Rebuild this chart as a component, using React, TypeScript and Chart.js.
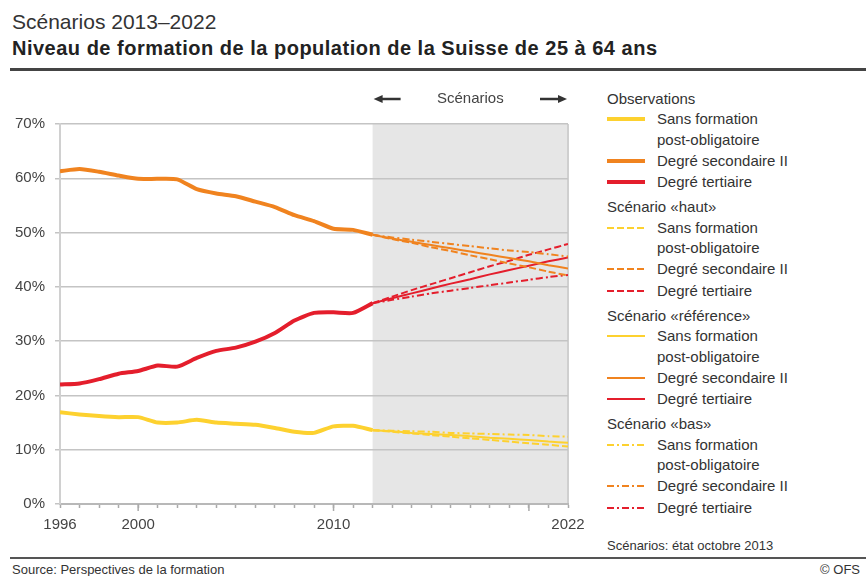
import React, { useEffect, useRef } from "react";
import { Chart, registerables } from "chart.js";
Chart.register(...registerables);

const obsYears = [1996, 1997, 1998, 1999, 2000, 2001, 2002, 2003, 2004, 2005, 2006, 2007, 2008, 2009, 2010, 2011, 2012];
const obsSans = [16.9, 16.5, 16.2, 16.0, 16.0, 15.0, 15.0, 15.5, 15.0, 14.8, 14.6, 14.0, 13.3, 13.1, 14.3, 14.4, 13.6];
const obsSec = [61.3, 61.7, 61.2, 60.5, 59.9, 59.9, 59.8, 58.0, 57.2, 56.7, 55.7, 54.7, 53.2, 52.1, 50.7, 50.5, 49.6];
const obsTer = [22.0, 22.2, 23.0, 24.0, 24.5, 25.5, 25.3, 26.9, 28.2, 28.8, 29.9, 31.5, 33.8, 35.2, 35.3, 35.2, 37.0];

const projYears = [2012, 2013, 2014, 2015, 2016, 2017, 2018, 2019, 2020, 2021, 2022];
const hautSans = [13.6, 13.3, 13.0, 12.7, 12.4, 12.1, 11.8, 11.5, 11.2, 10.9, 10.6];
const hautSec = [49.6, 48.8, 48.1, 47.3, 46.6, 45.8, 45.1, 44.3, 43.6, 42.8, 42.1];
const hautTer = [37.0, 38.2, 39.4, 40.5, 41.6, 42.7, 43.8, 44.8, 45.9, 46.9, 47.9];
const refSans = [13.6, 13.4, 13.1, 12.9, 12.7, 12.5, 12.2, 12.0, 11.8, 11.5, 11.3];
const refSec = [49.6, 48.9, 48.3, 47.7, 47.1, 46.5, 45.9, 45.3, 44.7, 44.0, 43.4];
const refTer = [37.0, 37.9, 38.8, 39.7, 40.6, 41.4, 42.3, 43.1, 43.9, 44.7, 45.4];
const basSans = [13.6, 13.5, 13.4, 13.3, 13.1, 13.0, 12.9, 12.8, 12.7, 12.5, 12.4];
const basSec = [49.6, 49.1, 48.7, 48.3, 47.9, 47.5, 47.1, 46.7, 46.4, 46.0, 45.6];
const basTer = [37.0, 37.6, 38.2, 38.8, 39.3, 39.8, 40.3, 40.8, 41.3, 41.8, 42.2];

const xLabelYears = [1996, 2000, 2010, 2022];
const majorTickYears = [2000, 2010, 2020];
const scenarioStart = 2012;
const scenarioEnd = 2022;

const categoryLabels = ["Sans formation\npost-obligatoire", "Degré secondaire II", "Degré tertiaire"];
const groupTitles = ["Observations", "Scénario «haut»", "Scénario «référence»", "Scénario «bas»"];

const YELLOW = "#fdd12f";
const ORANGE = "#f0831f";
const RED = "#e41e2c";
const colors = [YELLOW, ORANGE, RED];
const DASH_HAUT = [7, 3];
const DASH_BAS = [7, 3, 2, 3];
const groupDash: (number[] | null)[] = [null, DASH_HAUT, null, DASH_BAS];
const groupWidth = [4, 2, 2, 2];

const FONT = "'Liberation Sans', Arial, sans-serif";
const TEXT = "#333";

function pts(xs: number[], ys: number[]) {
  return xs.map((x, i) => ({ x, y: ys[i] }));
}

const bandPlugin = {
  id: "band",
  beforeDraw(chart: any) {
    const { ctx, chartArea, scales } = chart;
    const x0 = scales.x.getPixelForValue(scenarioStart);
    const x1 = scales.x.getPixelForValue(scenarioEnd);
    ctx.save();
    ctx.fillStyle = "#e6e6e6";
    ctx.fillRect(x0, chartArea.top, x1 - x0, chartArea.bottom - chartArea.top);
    ctx.strokeStyle = "#cfcfcf";
    ctx.lineWidth = 2;
    ctx.beginPath();
    ctx.moveTo(x1, chartArea.top);
    ctx.lineTo(x1, chartArea.bottom);
    ctx.stroke();
    ctx.restore();
  },
  afterDraw(chart: any) {
    const { ctx, chartArea, scales } = chart;
    const x0 = scales.x.getPixelForValue(scenarioStart);
    const x1 = scales.x.getPixelForValue(scenarioEnd);
    ctx.save();
    ctx.strokeStyle = "#aaa";
    ctx.lineWidth = 1.5;
    majorTickYears.forEach((yr) => {
      const px = scales.x.getPixelForValue(yr);
      ctx.beginPath();
      ctx.moveTo(px, chartArea.bottom);
      ctx.lineTo(px, chartArea.bottom + 7);
      ctx.stroke();
    });
    const y = 19;
    ctx.fillStyle = "#444";
    ctx.strokeStyle = "#333";
    ctx.font = `15px ${FONT}`;
    ctx.textAlign = "center";
    ctx.textBaseline = "middle";
    ctx.fillText("Scénarios", (x0 + x1) / 2, y);
    ctx.lineWidth = 2.5;
    ctx.beginPath();
    ctx.moveTo(x0 + 6, y);
    ctx.lineTo(x0 + 28, y);
    ctx.stroke();
    ctx.beginPath();
    ctx.moveTo(x0 + 1, y);
    ctx.lineTo(x0 + 10, y - 4);
    ctx.lineTo(x0 + 10, y + 4);
    ctx.closePath();
    ctx.fillStyle = "#333";
    ctx.fill();
    ctx.beginPath();
    ctx.moveTo(x1 - 28, y);
    ctx.lineTo(x1 - 6, y);
    ctx.stroke();
    ctx.beginPath();
    ctx.moveTo(x1 - 1, y);
    ctx.lineTo(x1 - 10, y - 4);
    ctx.lineTo(x1 - 10, y + 4);
    ctx.closePath();
    ctx.fill();
    ctx.restore();
  },
};

function LegendSymbol({ color, dash, width }: { color: string; dash: number[] | null; width: number }) {
  return (
    <svg width={38} height={10} style={{ position: "absolute", left: 0, top: 5 }}>
      <line x1={0} y1={5} x2={38} y2={5} stroke={color} strokeWidth={width} strokeDasharray={dash ? dash.join(" ") : undefined} />
    </svg>
  );
}

export default function App() {
  const ref = useRef<HTMLCanvasElement | null>(null);
  useEffect(() => {
    if (!ref.current) return;
    const mk = (data: number[], xs: number[], color: string, width: number, dash: number[] | null) => ({
      data: pts(xs, data),
      borderColor: color,
      backgroundColor: color,
      borderWidth: width,
      borderDash: dash || [],
      pointRadius: 0,
      tension: 0.2,
      fill: false,
    });
    const datasets = [
      mk(hautSans, projYears, YELLOW, 2, DASH_HAUT),
      mk(refSans, projYears, YELLOW, 2, null),
      mk(basSans, projYears, YELLOW, 2, DASH_BAS),
      mk(hautSec, projYears, ORANGE, 2, DASH_HAUT),
      mk(refSec, projYears, ORANGE, 2, null),
      mk(basSec, projYears, ORANGE, 2, DASH_BAS),
      mk(hautTer, projYears, RED, 2, DASH_HAUT),
      mk(refTer, projYears, RED, 2, null),
      mk(basTer, projYears, RED, 2, DASH_BAS),
      mk(obsSans, obsYears, YELLOW, 4, null),
      mk(obsSec, obsYears, ORANGE, 4, null),
      mk(obsTer, obsYears, RED, 4, null),
    ];
    const chart = new Chart(ref.current, {
      type: "line",
      data: { datasets },
      plugins: [bandPlugin],
      options: {
        animation: false,
        responsive: false,
        devicePixelRatio: 1,
        layout: { padding: { top: 44, right: 32, left: 0, bottom: 0 } },
        plugins: { legend: { display: false }, tooltip: { enabled: false } },
        scales: {
          x: {
            type: "linear",
            min: 1996,
            max: 2022,
            afterBuildTicks: (scale: any) => {
              const t = [];
              for (let y = 1996; y <= 2022; y++) t.push({ value: y });
              scale.ticks = t;
            },
            afterFit: (scale: any) => {
              scale.height = 36;
            },
            grid: { display: true, drawOnChartArea: false, drawTicks: true, tickLength: 4, tickColor: "#aaa", tickWidth: 1.5 },
            border: { display: true, color: "#b8b8b8", width: 2 },
            ticks: {
              autoSkip: false,
              maxRotation: 0,
              padding: 8,
              color: "#444",
              font: { family: FONT, size: 15 },
              callback: (v: any) => (xLabelYears.includes(v) ? String(v) : ""),
            },
          },
          y: {
            min: 0,
            max: 70,
            afterFit: (scale: any) => {
              scale.width = 60;
            },
            grid: { color: "#c4c4c4", lineWidth: 1.5, tickLength: 5, drawTicks: true },
            border: { display: true, color: "#d0d0d0", width: 2 },
            ticks: {
              stepSize: 10,
              padding: 10,
              color: "#444",
              font: { family: FONT, size: 15 },
              callback: (v: any) => v + "%",
            },
          },
        },
      } as any,
    });
    return () => chart.destroy();
  }, []);

  const LH = "20.3px";
  const legendRows: React.ReactNode[] = [];
  groupTitles.forEach((title, gi) => {
    legendRows.push(
      <div key={"t" + gi} style={{ marginTop: gi === 0 ? 0 : 5, lineHeight: LH }}>
        {title}
      </div>
    );
    categoryLabels.forEach((lab, ci) => {
      const lines = lab.split("\n");
      legendRows.push(
        <div key={gi + "-" + ci} style={{ position: "relative", paddingLeft: 50, lineHeight: LH, marginTop: ci === 0 ? 0 : 1 }}>
          <LegendSymbol color={colors[ci]} dash={groupDash[gi]} width={groupWidth[gi]} />
          {lines.map((l, i) => (
            <div key={i}>{l}</div>
          ))}
        </div>
      );
    });
  });

  return (
    <div style={{ position: "absolute", left: 0, top: 0, width: 866, height: 576, background: "#fff", overflow: "hidden", fontFamily: FONT, color: TEXT }}>
      <div style={{ position: "absolute", left: 12, top: 10, fontSize: 21, lineHeight: "24px", color: "#333" }}>Scénarios 2013–2022</div>
      <div style={{ position: "absolute", left: 12, top: 35, fontSize: 20, letterSpacing: "0.5px", fontWeight: "bold", lineHeight: "26px", color: "#222" }}>
        Niveau de formation de la population de la Suisse de 25 à 64 ans
      </div>
      <div style={{ position: "absolute", left: 10, top: 68, width: 856, height: 3, background: "#444" }} />
      <canvas ref={ref} width={600} height={460} style={{ position: "absolute", left: 0, top: 80, width: 600, height: 460 }} />
      <div style={{ position: "absolute", left: 607, top: 89, width: 259, fontSize: 15, color: "#333" }}>{legendRows}</div>
      <div style={{ position: "absolute", left: 607, top: 538, fontSize: 13, lineHeight: "16px", color: "#333" }}>Scénarios: état octobre 2013</div>
      <div style={{ position: "absolute", left: 10, top: 557, width: 856, height: 2, background: "#555" }} />
      <div style={{ position: "absolute", left: 12, top: 562, fontSize: 13, lineHeight: "16px", color: "#333" }}>Source: Perspectives de la formation</div>
      <div style={{ position: "absolute", right: 6, top: 562, fontSize: 13, lineHeight: "16px", color: "#333" }}>© OFS</div>
    </div>
  );
}
